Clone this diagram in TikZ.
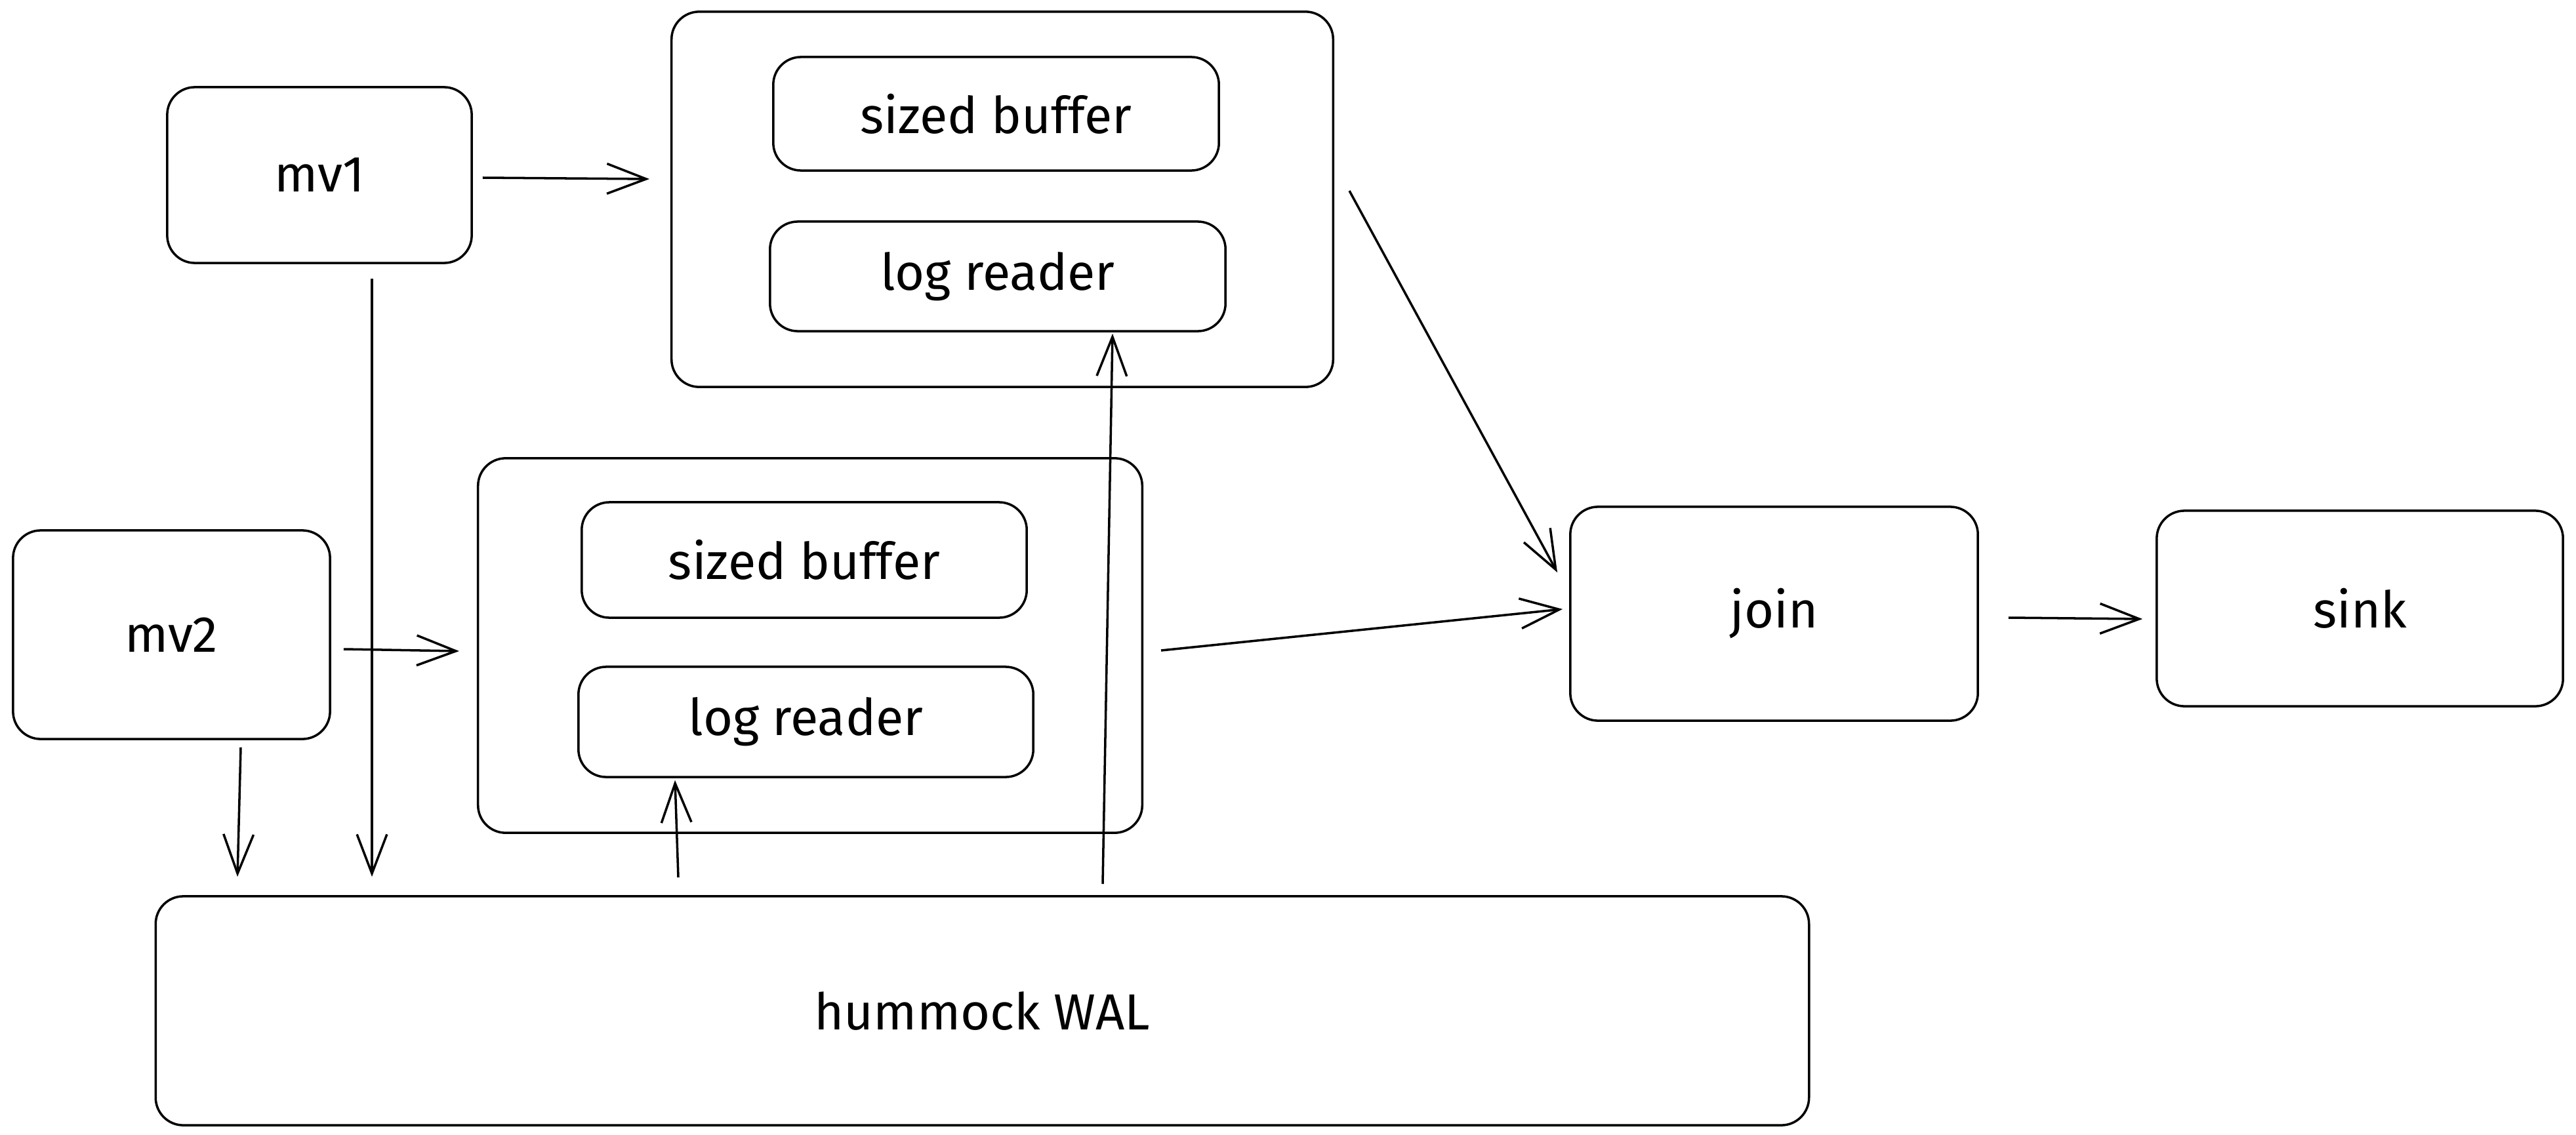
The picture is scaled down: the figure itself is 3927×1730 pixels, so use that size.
\documentclass[tikz,border=0pt]{standalone}
\usepackage{fontspec}
\setmainfont{Fira Sans}
\usetikzlibrary{arrows.meta,calc}
\begin{document}
\begin{tikzpicture}[x=0.01cm,y=-0.01cm,
  box/.style={draw, line width=1pt, rounded corners=12pt, inner sep=0pt, font=\fontsize{22}{26}\selectfont},
  arr/.style={draw, line width=1pt, -{Straight Barb[length=17pt,width=13pt,line width=1pt]}}]
\useasboundingbox (0,0) rectangle (3927,1730);
% boxes
\node[box, minimum width=4.64cm, minimum height=2.68cm] (mv1) at (487,267) {mv1};
\node[box, minimum width=4.83cm, minimum height=3.18cm] (mv2) at (261.5,968) {mv2};
\node[box, minimum width=10.08cm, minimum height=5.72cm] (uc) at (1528,304) {};
\node[box, minimum width=6.79cm, minimum height=1.73cm] (usb) at (1518.5,173.5) {sized buffer};
\node[box, minimum width=6.94cm, minimum height=1.67cm] (ulr) at (1521,421.5) {log reader};
\node[box, minimum width=10.12cm, minimum height=5.71cm] (lc) at (1235,984.5) {};
\node[box, minimum width=6.78cm, minimum height=1.76cm] (lsb) at (1226,854) {sized buffer};
\node[box, minimum width=6.93cm, minimum height=1.68cm] (llr) at (1228.5,1101) {log reader};
\node[box, minimum width=6.21cm, minimum height=3.26cm] (join) at (2704.5,936) {join};
\node[box, minimum width=6.19cm, minimum height=2.98cm] (sink) at (3597.5,928) {sink};
\node[box, minimum width=25.19cm, minimum height=3.49cm] (wal) at (1497.5,1541.5) {hummock WAL};
% connectors
\draw[arr] ($(mv1.east)+(15,4)$) -- ($(uc.west)+(-32,-31)$);
\draw[arr] ($(uc.east)+(23,-13)$) -- ($(join.west)+(-18,-63)$);
\draw[arr] ($(mv2.east)+(19,22)$) -- ($(lc.west)+(-27,8.5)$);
\draw[arr] ($(lc.east)+(27,7.5)$) -- ($(join.west)+(-10,-7)$);
\draw[arr] ($(join.east)+(45,6)$) -- ($(sink.west)+(-20,16)$);
\draw[arr] ($(mv1.south)+(80,22)$) -- ($(wal.north)+(-930.5,-28)$);
\draw[arr] ($(mv2.south)+(105.5,11)$) -- ($(wal.north)+(-1135.5,-28)$);
\draw[arr] ($(wal.north)+(-463.5,-27)$) -- ($(llr.south)+(-199.5,3)$);
\draw[arr] ($(wal.north)+(183.5,-17)$) -- ($(ulr.south)+(175,2)$);
\end{tikzpicture}
\end{document}
